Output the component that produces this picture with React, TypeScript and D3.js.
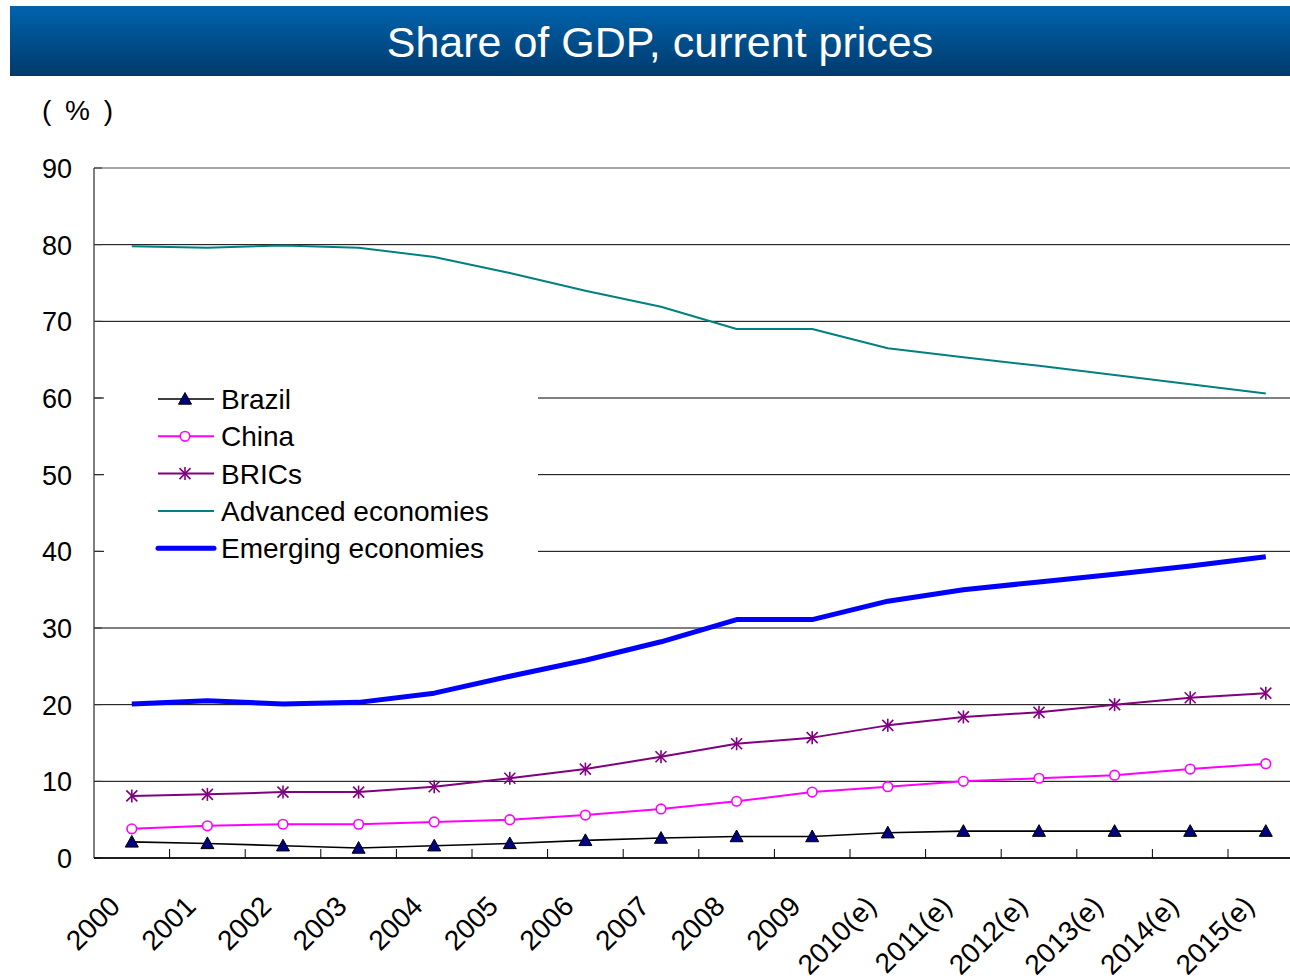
import React from "react";
import * as d3 from "d3";

const years = ["2000","2001","2002","2003","2004","2005","2006","2007","2008","2009","2010(e)","2011(e)","2012(e)","2013(e)","2014(e)","2015(e)"];
const brazil = [2.1,1.9,1.6,1.3,1.6,1.9,2.3,2.6,2.8,2.8,3.3,3.5,3.5,3.5,3.5,3.5];
const china = [3.8,4.2,4.4,4.4,4.7,5.0,5.6,6.4,7.4,8.6,9.3,10.0,10.4,10.8,11.6,12.3];
const brics = [8.1,8.3,8.6,8.6,9.3,10.4,11.6,13.2,14.9,15.7,17.3,18.4,19.0,20.0,20.9,21.5];
const advanced = [79.8,79.6,79.9,79.6,78.4,76.3,74.0,71.9,69.0,69.0,66.5,65.3,64.2,63.0,61.8,60.6];
const emerging = [20.1,20.5,20.1,20.3,21.5,23.7,25.8,28.2,31.1,31.1,33.5,35.0,36.0,37.0,38.1,39.3];
const yTicks = [0,10,20,30,40,50,60,70,80,90];
const legendNames = ["Brazil","China","BRICs","Advanced economies","Emerging economies"];

const FONT = "'Liberation Sans', Arial, sans-serif";

function Marker({ kind, x, y }: { kind: string; x: number; y: number }) {
  if (kind === "tri") {
    const s = 6.5;
    return <path d={`M${x},${y - s} L${x + s},${y + s * 0.8} L${x - s},${y + s * 0.8} Z`} fill="#000080" stroke="#000" strokeWidth={1} />;
  }
  if (kind === "circ") {
    return <circle cx={x} cy={y} r={4.8} fill="#fff" stroke="#ff00ff" strokeWidth={1.6} />;
  }
  if (kind === "star") {
    const s = 5.5;
    return (
      <g stroke="#800080" strokeWidth={1.6}>
        <line x1={x} y1={y - s - 1} x2={x} y2={y + s + 1} />
        <line x1={x - s} y1={y - s} x2={x + s} y2={y + s} />
        <line x1={x - s} y1={y + s} x2={x + s} y2={y - s} />
      </g>
    );
  }
  return null;
}

export default function App() {
  const left = 94, top = 168, bottom = 858;
  const bandW = 75.6;
  const right = left + bandW * years.length;
  const x = d3.scaleBand<string>().domain(years).range([left, right]);
  const cx = (i: number) => (x(years[i]) as number) + x.bandwidth() / 2;
  const y = d3.scaleLinear().domain([0, 90]).range([bottom, top]);
  const line = d3.line<number>().x((_, i) => cx(i)).y((d) => y(d));

  const series = [
    { name: "Brazil", data: brazil, color: "#000000", w: 1.6, marker: "tri" },
    { name: "China", data: china, color: "#ff00ff", w: 2, marker: "circ" },
    { name: "BRICs", data: brics, color: "#800080", w: 2, marker: "star" },
    { name: "Advanced economies", data: advanced, color: "#008080", w: 2, marker: "" },
    { name: "Emerging economies", data: emerging, color: "#0000ff", w: 5, marker: "" },
  ];
  const drawOrder = [3, 4, 2, 1, 0];

  return (
    <svg width={1290} height={980} style={{ position: "absolute", left: 0, top: 0, display: "block" }} fontFamily={FONT}>
      <defs>
        <linearGradient id="tg" x1="0" y1="0" x2="0" y2="1">
          <stop offset="0" stopColor="#0063ad" />
          <stop offset="1" stopColor="#003a6c" />
        </linearGradient>
      </defs>
      <rect x={0} y={0} width={1290} height={980} fill="#fff" />
      <rect x={10} y={6} width={1280} height={70} fill="url(#tg)" />
      <text x={660} y={57} textAnchor="middle" fill="#fff" fontSize={43}>Share of GDP, current prices</text>
      <text x={42} y={120} fontSize={28} fill="#000" wordSpacing={6} style={{ whiteSpace: "pre" }}>( % )</text>

      {/* gridlines */}
      {yTicks.map((t) => (
        <line key={"g" + t} x1={left} x2={1290} y1={y(t)} y2={y(t)} stroke={t === 90 ? "#888" : "#000"} strokeWidth={t === 90 ? 1.5 : 1} />
      ))}
      {/* y axis */}
      <line x1={left} x2={left} y1={top} y2={bottom} stroke="#555" strokeWidth={1.5} />
      {yTicks.map((t) => (
        <g key={"yt" + t}>
          <line x1={left} x2={left + 8} y1={y(t)} y2={y(t)} stroke="#333" strokeWidth={1} />
          <text x={72} y={y(t) + 10} textAnchor="end" fontSize={27} fill="#000">{t}</text>
        </g>
      ))}
      {/* x axis */}
      <line x1={left} x2={1290} y1={bottom} y2={bottom} stroke="#000" strokeWidth={1.5} />
      {years.map((yr, i) => i > 0 ? (
        <line key={"xt" + yr} x1={x(yr) as number} x2={x(yr) as number} y1={bottom - 9} y2={bottom} stroke="#000" strokeWidth={1} />
      ) : null)}
      {years.map((yr, i) => (
        <text key={"xl" + yr} transform={`translate(${cx(i) - 10},${908}) rotate(-45)`} textAnchor="end" fontSize={28} fill="#000">{yr}</text>
      ))}

      {/* series */}
      {drawOrder.map((k) => {
        const s = series[k];
        return (
          <g key={s.name}>
            <path d={line(s.data) as string} fill="none" stroke={s.color} strokeWidth={s.w} strokeLinejoin="round" />
            {s.marker && s.data.map((v, i) => <Marker key={i} kind={s.marker} x={cx(i)} y={y(v)} />)}
          </g>
        );
      })}

      {/* legend */}
      <rect x={104} y={380} width={434} height={188} fill="#fff" />
      {series.map((s, i) => {
        const ly = 399 + i * 37.3;
        return (
          <g key={"lg" + s.name}>
            <line x1={158} x2={214} y1={ly} y2={ly} stroke={s.color} strokeWidth={s.w} strokeLinecap={s.w > 3 ? "round" : "butt"} />
            {s.marker && <Marker kind={s.marker} x={185} y={ly} />}
            <text x={221} y={ly + 10} fontSize={28} fill="#000">{legendNames[i]}</text>
          </g>
        );
      })}
    </svg>
  );
}
